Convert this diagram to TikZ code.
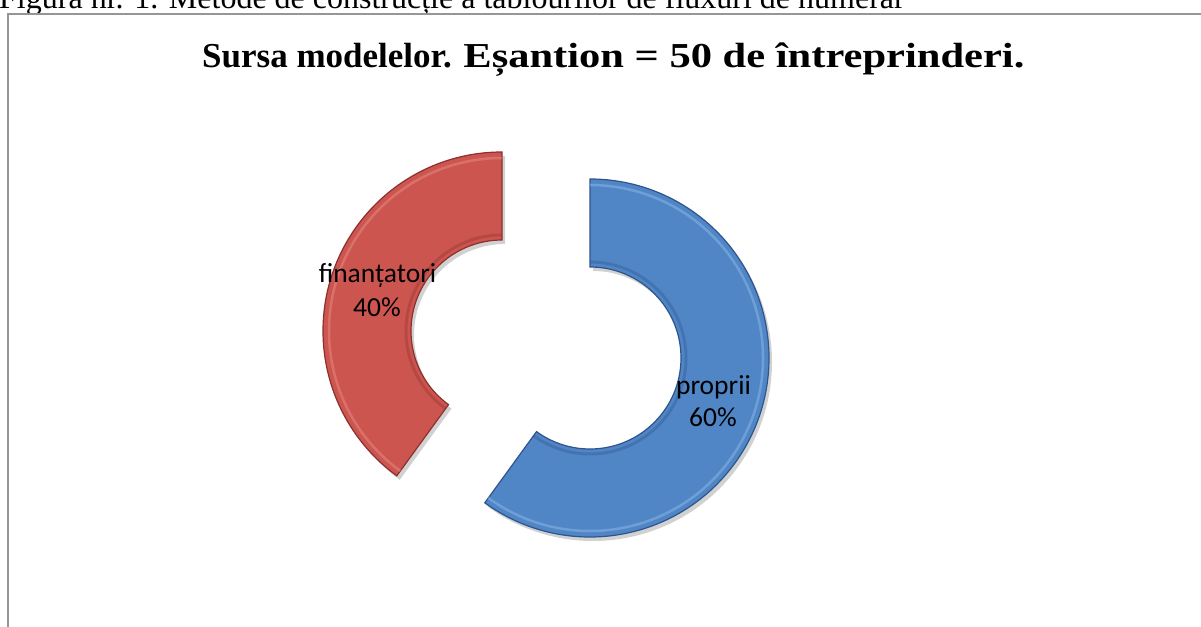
\documentclass[tikz,border=0pt]{standalone}
\usepackage{fontspec}
\setmainfont{Liberation Serif}
\newfontfamily\labelfont{Carlito}
\usepackage{graphicx}
\usepackage{tikz}

\definecolor{finfill}{RGB}{205,85,80}
\definecolor{finedge}{RGB}{140,48,45}
\definecolor{finlight}{RGB}{232,140,132}
\definecolor{propfill}{RGB}{80,134,198}
\definecolor{propedge}{RGB}{45,85,140}
\definecolor{proplight}{RGB}{140,185,230}
\definecolor{framegray}{RGB}{150,150,150}

\tikzset{
  pct/.style={font=\labelfont\fontsize{27.5}{34}\selectfont, inner sep=0pt, anchor=base},
  ringshadow/.style={fill=black, opacity=0.18},
}

% #1 centre, #2 start angle, #3 end angle, #4 fill, #5 edge, #6 light
\newcommand{\ringpart}[6]{%
  \begin{scope}[shift={#1}]
    \fill[ringshadow, shift={(3,-4)}] (#2:179) arc[start angle=#2, end angle=#3, radius=179]
      -- (#3:91) arc[start angle=#3, end angle=#2, radius=91] -- cycle;
    \filldraw[fill=#4, draw=#5, line width=1.2pt] (#2:179) arc[start angle=#2, end angle=#3, radius=179]
      -- (#3:91) arc[start angle=#3, end angle=#2, radius=91] -- cycle;
    \draw[#6, line width=2.5pt, opacity=0.5, line join=round] (#2:173) arc[start angle=#2, end angle=#3, radius=173];
    \draw[#5, line width=3pt, opacity=0.35] (#2:96) arc[start angle=#2, end angle=#3, radius=96];
  \end{scope}}

\begin{document}
\begin{tikzpicture}[x=1pt, y=1pt]
    \useasboundingbox (0,0) rectangle (1201,626);
    \clip (0,0) rectangle (1201,626);

    \node[anchor=base west, inner sep=0pt, font=\fontsize{32}{36}\selectfont] (caption) at (-1,617)
      {Figura nr. 1. Metode de construcție a tablourilor de fluxuri de numerar};
    \draw[framegray, line width=2pt] (8,-20) -- (8,612) -- (1220,612);

    \node[anchor=base west, inner sep=0pt, font=\bfseries\fontsize{35}{40}\selectfont] (title) at (202,558)
      {Sursa modelelor. \scalebox{1.215}[1]{Eșantion = 50 de întreprinderi.}};

    % red part, 40%
    \ringpart{(502,295)}{90}{234}{finfill}{finedge}{finlight}
    % blue part, 60%
    \ringpart{(590,268)}{-126}{90}{propfill}{propedge}{proplight}

    \node[pct] (finname) at (377.5,343) {finanțatori};
    \node[pct] (finval) at (377,309) {40\%};
    \node[pct] (propname) at (713.5,231) {proprii};
    \node[pct] (propval) at (713,199) {60\%};
\end{tikzpicture}
\end{document}
